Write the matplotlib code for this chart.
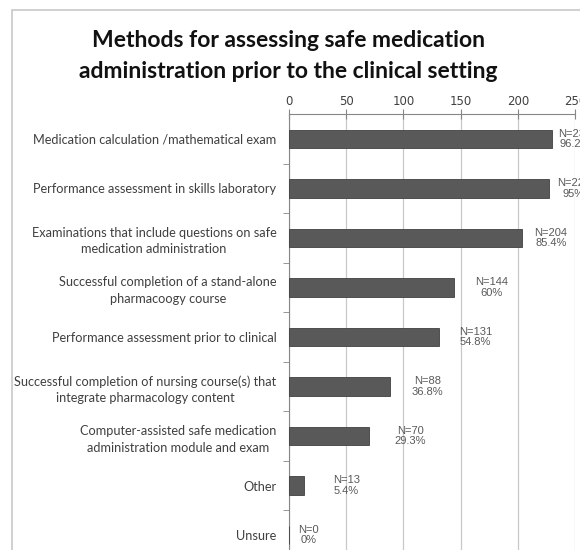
import matplotlib.pyplot as plt
from matplotlib.patches import Rectangle

# data
methods = [
    "Medication calculation /mathematical exam",
    "Performance assessment in skills laboratory",
    "Examinations that include questions on safe\nmedication administration",
    "Successful completion of a stand-alone\npharmacoogy course",
    "Performance assessment prior to clinical",
    "Successful completion of nursing course(s) that\nintegrate pharmacology content",
    "Computer-assisted safe medication\nadministration module and exam",
    "Other",
    "Unsure",
]
counts = [230, 227, 204, 144, 131, 88, 70, 13, 0]
percents = ["96.2%", "95%", "85.4%", "60%", "54.8%", "36.8%", "29.3%", "5.4%", "0%"]
label_dx = [20, 22, 25, 33, 32, 33, 36, 37, 17]  # label nudges (data units)

fig = plt.figure(figsize=(5.8, 5.5), dpi=100)

# outer chart frame (cropped on right and bottom)
fig.patches.append(Rectangle((12 / 580, -0.1), 1.0, 1.1 - 10 / 550,
                             transform=fig.transFigure, fill=False,
                             edgecolor="#c8c8c8", linewidth=1.2))

ax = fig.add_axes([289 / 580, 1 - 560 / 550, (575 - 289) / 580, 446 / 550])

y = list(range(len(methods)))
ax.barh(y, counts, height=0.37, color="#595959", edgecolor="#404040",
        linewidth=0.6, zorder=3)

for yi, c, p, dx in zip(y, counts, percents, label_dx):
    ax.text(c + dx, yi, f"N={c}\n{p}", ha="center", va="center",
            fontsize=8, family="Liberation Sans", color="#595959",
            linespacing=1.05, zorder=4, clip_on=False)

ax.set_xlim(0, 250)
ax.set_ylim(len(methods) - 0.5, -0.5)
ax.xaxis.tick_top()
ax.set_xticks([0, 50, 100, 150, 200, 250])
ax.tick_params(axis="x", direction="inout", length=7, color="#868686",
               labelsize=8.5, labelcolor="#404040", pad=1)
ax.grid(axis="x", color="#c8c8c8", linewidth=0.9, zorder=0)

ax.set_yticks(y)
ax.set_yticklabels(methods, fontsize=9.2, family="Lato", color="#404040",
                   ha="right")
ax.set_yticks([i + 0.5 for i in range(len(methods))], minor=True)
ax.tick_params(axis="y", which="major", length=0, pad=9)
ax.tick_params(axis="y", which="minor", length=4, color="#868686")
for lbl in ax.get_yticklabels():
    lbl.set_multialignment("center")
    lbl.set_linespacing(1.45)

for s in ["right", "bottom"]:
    ax.spines[s].set_visible(False)
ax.spines["top"].set_color("#868686")
ax.spines["left"].set_color("#868686")

fig.text(0.497, 1 - 56 / 550,
         "Methods for assessing safe medication\nadministration prior to the clinical setting",
         ha="center", va="center", fontsize=16.5, fontweight="bold",
         family="Lato", color="#111111", linespacing=1.6)

fig.savefig("out.png", dpi=100)
